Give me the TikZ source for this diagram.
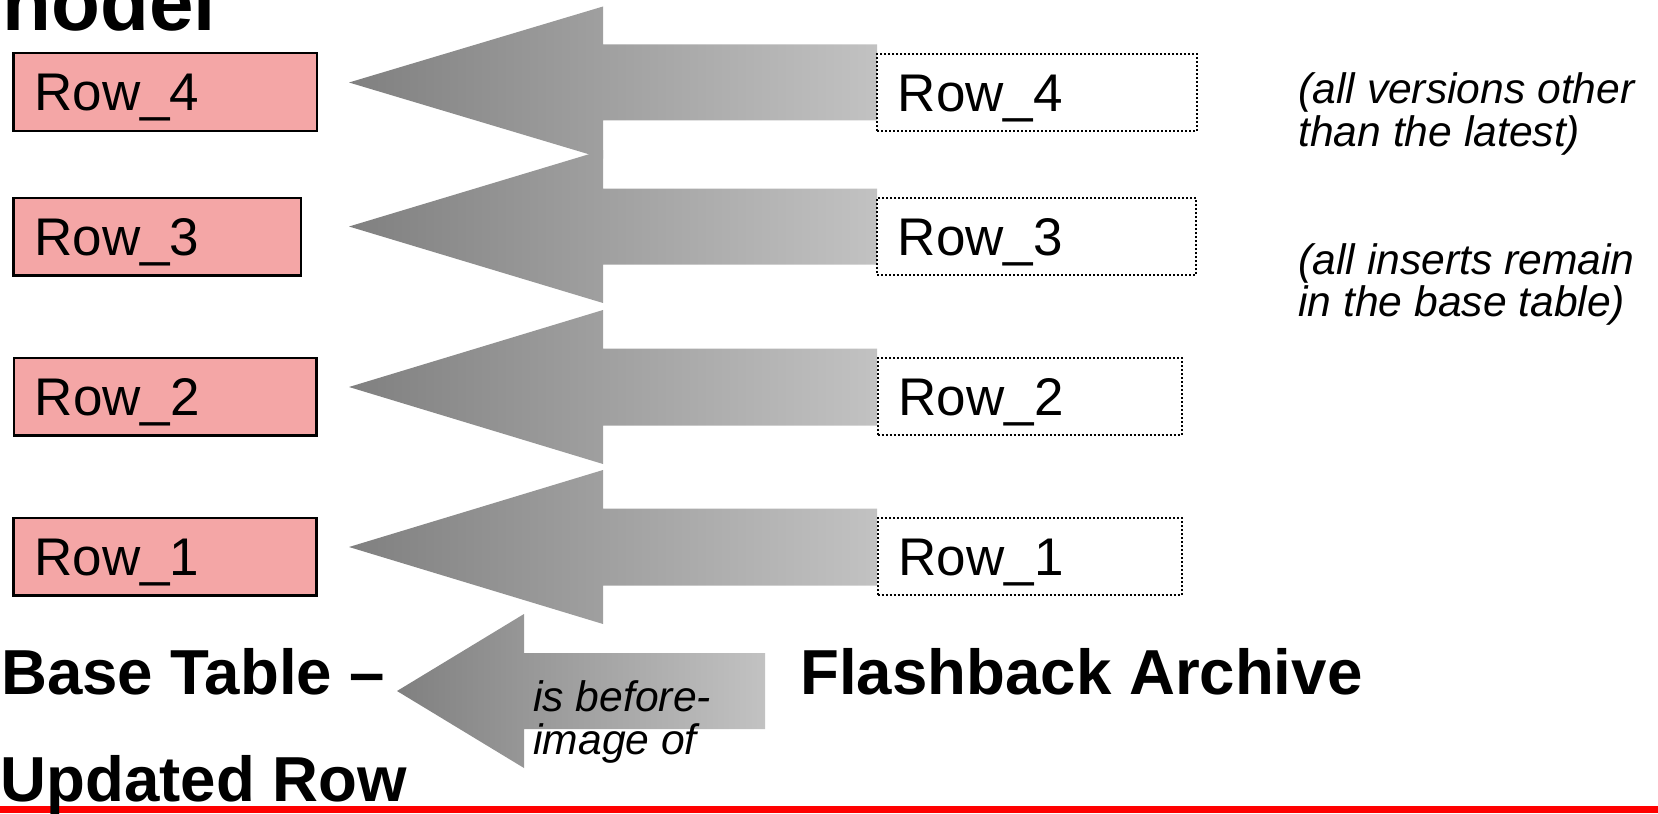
\documentclass[tikz,border=0pt]{standalone}
\usepackage{fontspec}
\setmainfont{Liberation Sans}
\usetikzlibrary{shapes.geometric}

\definecolor{arrowdark}{RGB}{128,128,128}
\definecolor{arrowlight}{RGB}{194,194,194}
\definecolor{rowpink}{RGB}{244,166,166}
\definecolor{barred}{RGB}{255,0,0}

% block arrow pointing left: tip x, head base x, tail x, centre y, head half height, shaft half height
\newcommand\blockarrow[6]{%
  \shade[arrowshade] (#1,#4) -- (#2,#4-#5) -- (#2,#4-#6) -- (#3,#4-#6)
    -- (#3,#4+#6) -- (#2,#4+#6) -- (#2,#4+#5) -- cycle;}

\tikzset{
  arrowshade/.style={left color=arrowdark, right color=arrowlight},
  rowtext/.style={font=\fontsize{26.5pt}{31pt}\selectfont, text height=18.9pt, text depth=0pt, align=left},
  basebox/.style={rowtext, draw=black, line width=1.25pt, fill=rowpink,
    minimum height=38.75pt, inner xsep=10.55pt, inner ysep=0pt},
  archbox/.style={rowtext, draw=black, line width=1pt, dash pattern=on 1pt off 1pt,
    fill=white, minimum height=38.5pt, inner xsep=10.45pt, inner ysep=0pt},
  heading/.style={font=\fontsize{31.8pt}{36pt}\selectfont\bfseries, anchor=base west, inner sep=0pt},
  note/.style={font=\fontsize{21.3pt}{21.5pt}\selectfont\itshape, anchor=base west, inner sep=0pt},
}

\begin{document}
\begin{tikzpicture}[x=0.5pt, y=-0.5pt]
\useasboundingbox (0,0) rectangle (1658,813);

% title, cut off at the top edge
\node[font=\fontsize{40pt}{46pt}\selectfont\bfseries, anchor=base west, inner sep=0pt] (title) at (2,31) {nodel};

% versions moving from the archive to the base table
\blockarrow{349}{603}{877}{82.5}{76}{38}
\blockarrow{349}{603}{877}{226.5}{76.5}{38}
\blockarrow{349}{603}{877}{387}{77}{38.5}
\blockarrow{349}{603}{877}{547}{77}{38.5}

% base table rows
\node[basebox, text width=130.65pt] (r4) at (165,92) {Row\_4};
\node[basebox, text width=122.65pt] (r3) at (157,236.5) {Row\_3};
\node[basebox, text width=130.15pt] (r2) at (165,396.5) {Row\_2};
\node[basebox, text width=130.5pt] (r1) at (165,556.7) {Row\_1};

% flashback archive rows
\node[archbox, text width=139.1pt] (d4) at (1037,92.5) {Row\_4};
\node[archbox, text width=138.6pt] (d3) at (1036.5,236.5) {Row\_3};
\node[archbox, text width=131.1pt] (d2) at (1029.7,396.2) {Row\_2};
\node[archbox, text width=131.1pt] (d1) at (1029.7,556.5) {Row\_1};

% notes on the right
\node[note] (n1a) at (1298,103.5) {(all versions other};
\node[note] (n1b) at (1298,146.5) {than the latest)};
\node[note] (n2a) at (1298,274) {(all inserts remain};
\node[note] (n2b) at (1298,316.5) {in the base table)};

% legend arrow
\blockarrow{397}{524}{765}{691}{77}{38}
\node[note] (leg1) at (533,711) {is before-};
\node[note] (leg2) at (533,754) {image of};

% bottom rule
\fill[barred] (0,806) rectangle (1658,813);

% captions
\node[heading] (base) at (0.7,694) {Base Table –};
\node[heading] (upd) at (0.4,801) {Updated Row};
\node[heading] (arch) at (800,694) {Flashback Archive};
\end{tikzpicture}
\end{document}
